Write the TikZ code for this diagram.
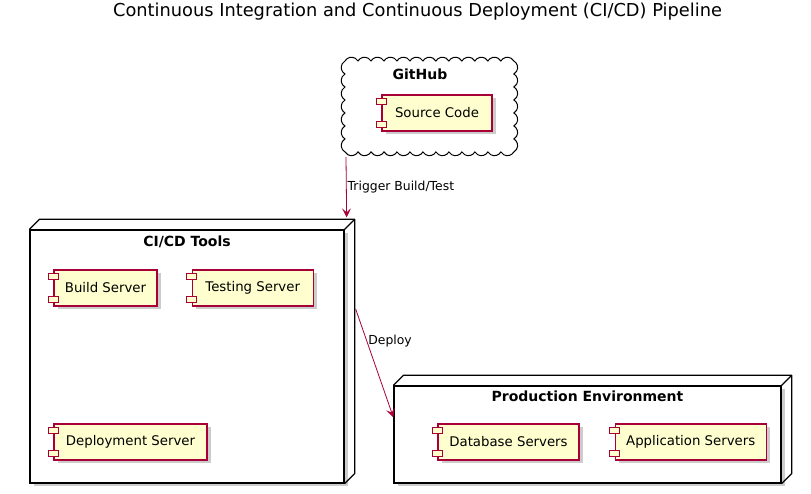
\documentclass[tikz,border=0pt]{standalone}
\usepackage{fontspec}
\setmainfont{DejaVu Sans}
\usetikzlibrary{arrows.meta, positioning, shadows}
\definecolor{umlred}{HTML}{A80036}
\definecolor{umlyellow}{HTML}{FEFECE}

\begin{document}
\begin{tikzpicture}[x=1pt, y=1pt]

% --- Define Styles ---
\tikzstyle{comp} = [rectangle, draw=umlred, fill=umlyellow, line width=1.2pt, minimum height=36, inner sep=0pt, font=\fontsize{13.3}{15}\selectfont, drop shadow={shadow xshift=3.5pt, shadow yshift=-3.5pt, opacity=0.4}]
\tikzstyle{tab} = [draw=umlred, fill=umlyellow, line width=1.2pt]
\tikzstyle{nodebox} = [rectangle, draw=black, line width=1.3pt, fill=white, inner sep=0pt, drop shadow={shadow xshift=3.5pt, shadow yshift=-3.5pt, opacity=0.4}]
\tikzstyle{boxline} = [draw=black, line width=1.3pt, line join=round]
\tikzstyle{boxtitle} = [inner sep=0pt, font=\fontsize{14}{16}\selectfont\bfseries]
\tikzstyle{edgelabel} = [inner sep=1pt, anchor=west, font=\fontsize{12.4}{14}\selectfont]
\tikzstyle{arrow} = [draw=umlred, line width=0.8pt, -{Stealth[length=9pt, width=9pt, inset=4pt]}]

\useasboundingbox (0,0) rectangle (811,494);

% --- Title ---
\node (title) [inner sep=0pt, font=\fontsize{17.8}{20}\selectfont] at (417.5,482) {Continuous Integration and Continuous Deployment (CI/CD) Pipeline};

% --- GitHub cloud ---
\draw[line width=1pt, fill=white] (345,433)
  \foreach \i in {1,...,13} {arc[start angle=150, end angle=30, radius=7.5]}
  \foreach \i in {1,...,7} {arc[start angle=60, end angle=-60, radius=7.5]}
  \foreach \i in {1,...,13} {arc[start angle=-30, end angle=-150, radius=7.5]}
  \foreach \i in {1,...,7} {arc[start angle=240, end angle=120, radius=7.5]} -- cycle;
\node (github) [boxtitle] at (420,420) {GitHub};
\node (src) [comp, minimum width=110] at (437,381) {Source Code};
\coordinate (ghout) at (346,337);

% --- CI/CD Tools ---
\node (tools) [nodebox, minimum width=314, minimum height=253] at (187,137.5) {};
\draw[boxline] (tools.north west) -- ++(10,10) -- ([shift={(10,10)}]tools.north east) -- ([shift={(10,10)}]tools.south east) -- (tools.south east);
\draw[boxline] (tools.north east) -- ++(10,10);
\node (toolstitle) [boxtitle] at ([yshift=-12]tools.north) {CI/CD Tools};
\node (build) [comp, minimum width=103] at (105.5,206) {Build Server};
\node (test) [comp, minimum width=121, right=34 of build] {Testing Server};
\node (deploy) [comp, minimum width=153] at (130.5,52) {Deployment Server};

% --- Production Environment ---
\node (prod) [nodebox, minimum width=387, minimum height=97] at (587.5,59.5) {};
\draw[boxline] (prod.north west) -- ++(10,10) -- ([shift={(10,10)}]prod.north east) -- ([shift={(10,10)}]prod.south east) -- (prod.south east);
\draw[boxline] (prod.north east) -- ++(10,10);
\node (prodtitle) [boxtitle] at ([yshift=-11]prod.north) {Production Environment};
\node (db) [comp, minimum width=141] at (508.5,52) {Database Servers};
\node (app) [comp, minimum width=151, right=35 of db] {Application Servers};

% --- component tabs ---
\foreach \c in {src, build, test, deploy, db, app} {
  \draw[tab] ([shift={(-5,-4)}]\c.north west) rectangle ++(10,-6);
  \draw[tab] ([shift={(-5,4)}]\c.south west) rectangle ++(10,6);
}

% --- Arrows ---
\coordinate (toolsin) at ([shift={(2,12)}]tools.north east);
\coordinate (toolsout) at ([shift={(11,47.5)}]tools.east);
\coordinate (prodin) at ([yshift=-32]prod.north west);
\draw [arrow] (ghout) -- node[edgelabel, pos=0.5] {Trigger Build/Test} (toolsin);
\draw [arrow] (toolsout) -- node[edgelabel, pos=0.3] {Deploy} (prodin);

\end{tikzpicture}
\end{document}
